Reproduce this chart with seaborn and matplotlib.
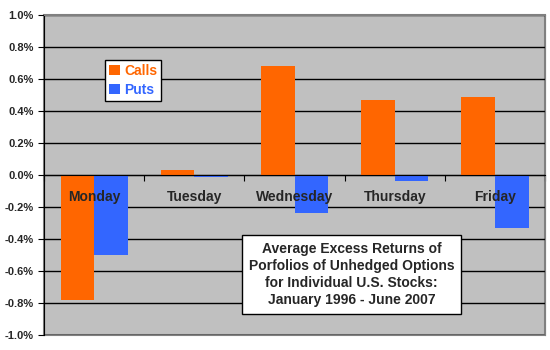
import matplotlib
matplotlib.use("Agg")
import matplotlib.pyplot as plt
import seaborn as sns
import pandas as pd
from matplotlib.ticker import FuncFormatter, MultipleLocator

days = ["Monday", "Tuesday", "Wednesday", "Thursday", "Friday"]
calls = [-0.78, 0.03, 0.68, 0.47, 0.49]
puts = [-0.50, -0.01, -0.24, -0.04, -0.33]
series = ["Calls", "Puts"]
colors = ["#FF6600", "#3366FF"]
title_text = ("Average Excess Returns of\nPorfolios of Unhedged Options\n"
              "for Individual U.S. Stocks:\nJanuary 1996 - June 2007")

df = pd.DataFrame({
    "day": days * 2,
    "series": [series[0]] * len(days) + [series[1]] * len(days),
    "value": calls + puts,
})

sns.set_style("white")
plt.rcParams["font.family"] = ["Liberation Sans", "DejaVu Sans"]
plt.rcParams["font.weight"] = "bold"

fig = plt.figure(figsize=(5.5, 3.5), dpi=100)
ax = fig.add_axes([0.08, 0.043, 0.911, 0.914])
sns.barplot(data=df, x="day", y="value", hue="series", order=days,
            hue_order=series, palette=colors, width=0.67, saturation=1,
            linewidth=0, edgecolor="none", ax=ax, legend=True)

ax.set_facecolor("#C0C0C0")
ax.set_ylim(-1.0, 1.0)
ax.set_xlim(-0.5, len(days) - 0.5)
ax.yaxis.set_major_locator(MultipleLocator(0.2))
ax.yaxis.set_major_formatter(FuncFormatter(lambda v, p: f"{v:.1f}%"))
ax.grid(axis="y", color="black", linewidth=1)
ax.set_axisbelow(True)
ax.set_xlabel("")
ax.set_ylabel("")

for s in ["top", "right"]:
    ax.spines[s].set_color("#808080")
ax.spines["left"].set_color("black")
ax.spines["bottom"].set_color("black")
ax.spines["bottom"].set_position(("data", 0))
ax.spines["bottom"].set_zorder(3)
ax.patch.set_edgecolor("#808080")
ax.patch.set_linewidth(1.5)

ax.set_xticks([i - 0.5 for i in range(len(days) + 1)])
ax.set_xticklabels([""] * (len(days) + 1))
ax.tick_params(axis="x", direction="out", length=4, color="black", bottom=True)
ax.tick_params(axis="y", direction="out", length=4, color="black", left=True,
               labelsize=8)
for lab in ax.get_yticklabels():
    lab.set_fontweight("bold")

for i, d in enumerate(days):
    ax.text(i, -0.1375, d, ha="center", va="center", fontsize=10,
            fontweight="bold", zorder=5)

leg = ax.legend(loc="upper left", bbox_to_anchor=(0.122, 0.86),
                frameon=True, fancybox=False, handlelength=0.8,
                handleheight=0.8, handletextpad=0.25, borderpad=0.3,
                borderaxespad=0, labelspacing=0.35,
                prop={"weight": "bold", "size": 10})
leg.get_frame().set_edgecolor("black")
leg.get_frame().set_facecolor("white")
leg.get_frame().set_alpha(1)
leg.get_frame().set_linewidth(1)
for t, c in zip(leg.get_texts(), colors):
    t.set_color(c)

ax.text(0.614, 0.189, title_text, transform=ax.transAxes, ha="center",
        va="center", fontsize=10, fontweight="bold", linespacing=1.3,
        bbox=dict(boxstyle="square,pad=0.5", facecolor="white",
                  edgecolor="black", linewidth=1), zorder=6)

fig.savefig("out.png", dpi=100, facecolor="white")
